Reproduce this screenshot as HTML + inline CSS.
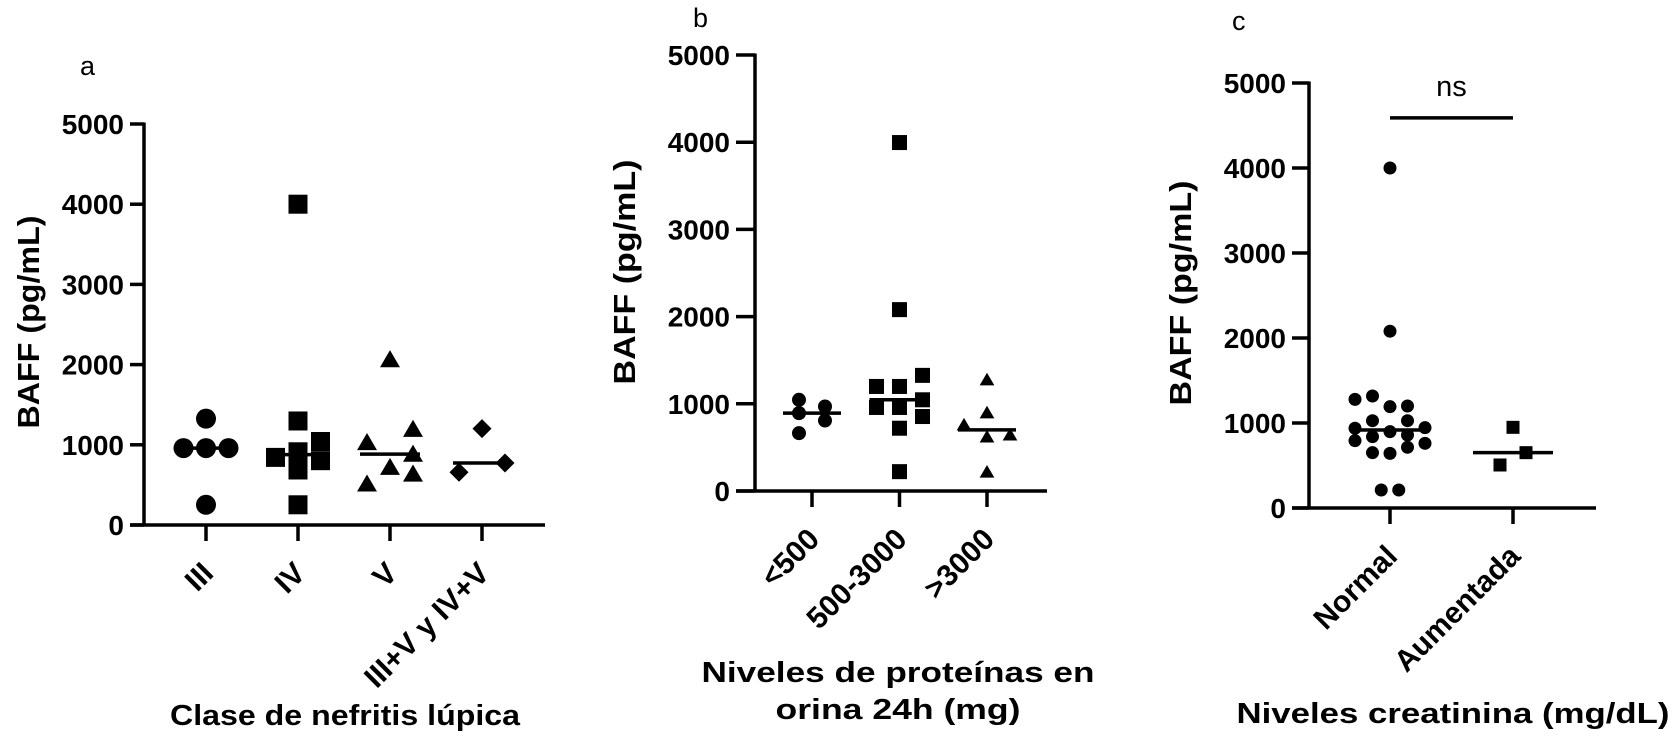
<!DOCTYPE html>
<html><head><meta charset="utf-8">
<style>
html,body{margin:0;padding:0;background:#fff;}
svg{display:block;font-family:"Liberation Sans",Arial,sans-serif;}
</style></head>
<body>
<svg id="fig" width="1675" height="740" viewBox="0 0 1675 740" xmlns="http://www.w3.org/2000/svg">
<rect x="0" y="0" width="1675" height="740" fill="#fff"/>
</svg>
<script>
// ---------- Panel a data ----------
const aCategories = ["III", "IV", "V", "III+V y IV+V"];
const aIII = [1326, 959, 959, 959, 252];
const aIV = [4000, 1297, 1041, 843, 913, 802, 686, 252];
const aV = [2062, 1029, 1194, 884, 719, 636, 512];
const aMix = [1202, 657, 773];
const aIIIJitter = [0, -1, 0, 1, 0];
const aIVJitter = [0, 0, 1, -1, 0, 1, 0, 0];
const aVJitter = [0, -1, 1, 1, 0, 1, -1];
const aMixJitter = [0, -1, 1];
// ---------- Panel b data ----------
const bCategories = ["<500", "500-3000", ">3000"];
const bLow = [1046, 893, 969, 808, 663];
const bMid = [3996, 2080, 1326, 1199, 1199, 958, 958, 1046, 854, 720, 222];
const bHigh = [1276, 897, 759, 621, 644, 218];
const bLowJitter = [-1, -1, 1, 1, -1];
const bMidJitter = [0, 0, 1, -1, 0, -1, 0, 1, 1, 0, 0];
const bHighJitter = [0, 0, -1, 0, 1, 0];
// ---------- Panel c data ----------
const cCategories = ["Normal", "Aumentada"];
const cNormal = [4000, 2080, 1278, 1318, 1192, 1200, 1027, 1027, 938, 898, 945, 839, 859, 792, 761, 651, 643, 714, 212, 212];
const cAum = [949, 651, 506];
const cNormalJitter = [0, 0, -2, -1, 0, 1, -1, 1, -2, 0, 2, -1, 1, -2, 2, -1, 0, 1, -0.5, 0.5];
const cAumJitter = [0, 1, -1];
const cBracketValue = 4590;
const yTicks = [0, 1000, 2000, 3000, 4000, 5000];

const NS = "http://www.w3.org/2000/svg";
const svg = document.getElementById("fig");
function mk(tag, attrs, parent) {
  const e = document.createElementNS(NS, tag);
  for (const k in attrs) e.setAttribute(k, attrs[k]);
  (parent || svg).appendChild(e);
  return e;
}
function median(arr) {
  const s = arr.slice().sort((p, q) => p - q);
  const n = s.length;
  return n % 2 ? s[(n - 1) / 2] : (s[n / 2 - 1] + s[n / 2]) / 2;
}
function marker(g, shape, x, y, size) {
  let e;
  const h = size / 2;
  if (shape === "circle") e = mk("circle", {cx: x, cy: y, r: h, fill: "#000"}, g);
  else if (shape === "square") e = mk("rect", {x: x - h, y: y - h, width: size, height: size, fill: "#000"}, g);
  else if (shape === "triangle") e = mk("polygon", {points: `${x},${y - h} ${x + h * 1.05},${y + h * 0.8} ${x - h * 1.05},${y + h * 0.8}`, fill: "#000"}, g);
  else e = mk("polygon", {points: `${x},${y - h} ${x + h},${y} ${x},${y + h} ${x - h},${y}`, fill: "#000"}, g);
  return e;
}

function panel(cfg) {
  const g = mk("g", {});
  
  
  const yScale = v => cfg.y0 - (v / 5000) * (cfg.y0 - cfg.y5000);
  const xScale = i => cfg.firstX + i * cfg.step;
  const ya = mk("line", {x1: cfg.axisX, y1: yScale(5000) - 1.5, x2: cfg.axisX, y2: cfg.y0 + 1.5, stroke: "#000", "stroke-width": 3.5}, g);
  
  
  yTicks.forEach(t => {
    const yy = yScale(t);
    const tl = mk("line", {x1: cfg.axisX - cfg.tickLen, y1: yy, x2: cfg.axisX, y2: yy, stroke: "#000", "stroke-width": 3.5}, g);
    
    
    const tx = mk("text", {x: cfg.axisX - cfg.tickLen - 6, y: yy + 10, "text-anchor": "end", "font-size": 28, "font-weight": "bold"}, g);
    tx.textContent = t;
    
    
  });
  const xa = mk("line", {x1: cfg.axisX - cfg.tickLen, y1: cfg.y0, x2: cfg.xEnd, y2: cfg.y0, stroke: "#000", "stroke-width": 3.5}, g);
  
  
  cfg.categories.forEach((c, i) => {
    const xx = xScale(i);
    const tl = mk("line", {x1: xx, y1: cfg.y0, x2: xx, y2: cfg.y0 + 16, stroke: "#000", "stroke-width": 3.5}, g);
    
    
    const px = xx + 9, py = cfg.y0 + 50;
    const tx = mk("text", {x: px, y: py, "text-anchor": "end", "font-size": 30, "font-weight": "bold", transform: `rotate(-45 ${px} ${py})`}, g);
    tx.textContent = c;
    
    
  });
  cfg.groups.forEach((grp, i) => {
    const cx = xScale(i);
    const sg = mk("g", {}, g);
    
    
    grp.values.forEach((v, j) => {
      const m = marker(sg, grp.shape, cx + grp.jitter[j] * grp.spread, yScale(v), grp.size);
      
      
    });
    const my = yScale(median(grp.values));
    const ml = mk("line", {x1: cx - grp.lineHalf, y1: my, x2: cx + grp.lineHalf, y2: my, stroke: "#000", "stroke-width": 3.5}, sg);
    
    
  });
  const yt = mk("text", {x: 0, y: 0, "text-anchor": "middle", "font-size": 31, "font-weight": "bold", textLength: cfg.yTitleLen, lengthAdjust: "spacingAndGlyphs", transform: `translate(${cfg.yTitleX} ${cfg.yTitleY}) rotate(-90)`}, g);
  yt.textContent = "BAFF (pg/mL)";
  
  
  cfg.xTitle.forEach(line => {
    const t = mk("text", {x: line.x, y: line.y, "text-anchor": "middle", "font-size": 29, "font-weight": "bold", textLength: line.w, lengthAdjust: "spacingAndGlyphs"}, g);
    t.textContent = line.text;
    
    
  });
  const pl = mk("text", {x: cfg.letterX, y: cfg.letterY, "font-size": 27}, g);
  pl.textContent = cfg.letter;
  
  
  return {g, yScale, xScale};
}

panel({
  name: "panel-a", letter: "a", letterX: 80, letterY: 75,
  axisX: 144, y0: 525, y5000: 124, tickLen: 14, firstX: 206, step: 92, xEnd: 545,
  categories: aCategories,
  groups: [
    {values: aIII, jitter: aIIIJitter, shape: "circle", size: 20, spread: 22.5, lineHalf: 23},
    {values: aIV, jitter: aIVJitter, shape: "square", size: 19, spread: 22.5, lineHalf: 26},
    {values: aV, jitter: aVJitter, shape: "triangle", size: 19, spread: 23, lineHalf: 30},
    {values: aMix, jitter: aMixJitter, shape: "diamond", size: 19, spread: 23, lineHalf: 29}
  ],
  yTitleX: 39, yTitleY: 322, yTitleLen: 213,
  xTitle: [{text: "Clase de nefritis lúpica", x: 345, y: 725, w: 350}]
});
panel({
  name: "panel-b", letter: "b", letterX: 693, letterY: 27,
  axisX: 755, y0: 491, y5000: 55, tickLen: 19, firstX: 812, step: 87.5, xEnd: 1047,
  categories: bCategories,
  groups: [
    {values: bLow, jitter: bLowJitter, shape: "circle", size: 14, spread: 13, lineHalf: 29},
    {values: bMid, jitter: bMidJitter, shape: "square", size: 15, spread: 23, lineHalf: 30},
    {values: bHigh, jitter: bHighJitter, shape: "triangle", size: 14, spread: 23, lineHalf: 29}
  ],
  yTitleX: 635, yTitleY: 272, yTitleLen: 225,
  xTitle: [{text: "Niveles de proteínas en", x: 898, y: 682, w: 393}, {text: "orina 24h (mg)", x: 898, y: 719, w: 245}]
});
const pc = panel({
  name: "panel-c", letter: "c", letterX: 1232, letterY: 30,
  axisX: 1309, y0: 508, y5000: 83, tickLen: 17, firstX: 1390, step: 123, xEnd: 1596,
  categories: cCategories,
  groups: [
    {values: cNormal, jitter: cNormalJitter, shape: "circle", size: 13, spread: 17.5, lineHalf: 39},
    {values: cAum, jitter: cAumJitter, shape: "square", size: 13, spread: 13, lineHalf: 40}
  ],
  yTitleX: 1191, yTitleY: 293, yTitleLen: 225,
  xTitle: [{text: "Niveles creatinina (mg/dL)", x: 1453, y: 723, w: 433}]
});
const by = pc.yScale(cBracketValue);
const bl = mk("line", {x1: pc.xScale(0), y1: by, x2: pc.xScale(1), y2: by, stroke: "#000", "stroke-width": 3.5});


const nsT = mk("text", {x: (pc.xScale(0) + pc.xScale(1)) / 2, y: by - 22, "text-anchor": "middle", "font-size": 29});
nsT.textContent = "ns";


</script>
</body></html>
